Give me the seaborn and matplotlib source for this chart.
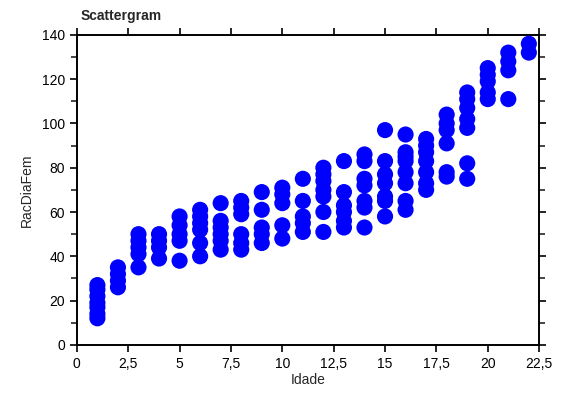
import matplotlib
matplotlib.use("Agg")
import matplotlib.pyplot as plt
import seaborn as sns
import pandas as pd
from matplotlib.ticker import MultipleLocator

# valores, agrupados por idade
idade_grupos = list(range(1, 23))
rac_grupos = [
    [27, 25, 22, 19, 17, 14, 12],
    [35, 32, 29, 26],
    [50, 47, 44, 41, 35],
    [50, 47, 44, 39],
    [58, 54, 50, 47, 38],
    [61, 58, 55, 52, 46, 40],
    [64, 56, 53, 50, 47, 43],
    [65, 62, 59, 50, 46, 43],
    [69, 61, 53, 50, 46],
    [71, 68, 64, 54, 48],
    [75, 65, 58, 55, 51],
    [80, 77, 74, 70, 67, 60, 51],
    [83, 69, 63, 60, 56, 53],
    [86, 83, 75, 72, 65, 62, 53],
    [97, 83, 77, 73, 67, 65, 58],
    [95, 87, 85, 83, 78, 73, 65, 61],
    [93, 90, 87, 83, 78, 73, 70],
    [104, 100, 97, 91, 78, 76],
    [114, 111, 107, 102, 98, 82, 75],
    [125, 122, 119, 114, 111],
    [132, 128, 124, 111],
    [136, 132],
]

x_ticks = [0, 2.5, 5, 7.5, 10, 12.5, 15, 17.5, 20, 22.5]
x_labels = ["0", "2,5", "5", "7,5", "10", "12,5", "15", "17,5", "20", "22,5"]
y_ticks = [0, 20, 40, 60, 80, 100, 120, 140]

idade = []
racdiafem = []
for a, vals in zip(idade_grupos, rac_grupos):
    for v in vals:
        idade.append(a)
        racdiafem.append(v)
df = pd.DataFrame({"Idade": idade, "RacDiaFem": racdiafem})

sns.set_style("ticks")
plt.rcParams["font.family"] = ["Liberation Sans", "DejaVu Sans"]

fig = plt.figure(figsize=(5.61, 4.01), dpi=100)
ax = fig.add_axes([0.137, 0.140, 0.824, 0.773])

sns.scatterplot(data=df, x="Idade", y="RacDiaFem", color="#0000FF",
                s=135, edgecolor="none", linewidth=0, ax=ax, zorder=3)

ax.set_xlim(0, 22.5)
ax.set_ylim(0, 140)
ax.set_xticks(x_ticks)
ax.set_xticklabels(x_labels)
ax.set_yticks(y_ticks)
ax.yaxis.set_minor_locator(MultipleLocator(10))

for side in ["left", "right", "top", "bottom"]:
    ax.spines[side].set_visible(True)
    ax.spines[side].set_linewidth(1.4)
    ax.spines[side].set_color("black")

ax.tick_params(axis="both", which="major", direction="out", length=5, width=1.2,
               labelsize=10, colors="black", top=True, right=True)
ax.tick_params(axis="y", which="minor", direction="out", length=4, width=1.2,
               right=True)

ax.set_xlabel("Idade", fontsize=10, labelpad=2)
ax.set_ylabel("RacDiaFem", fontsize=10, labelpad=6)
fig.text(0.143, 0.96, "Scattergram", fontsize=10, fontweight="bold",
         ha="left", va="center")

fig.savefig("out.png", dpi=100)
